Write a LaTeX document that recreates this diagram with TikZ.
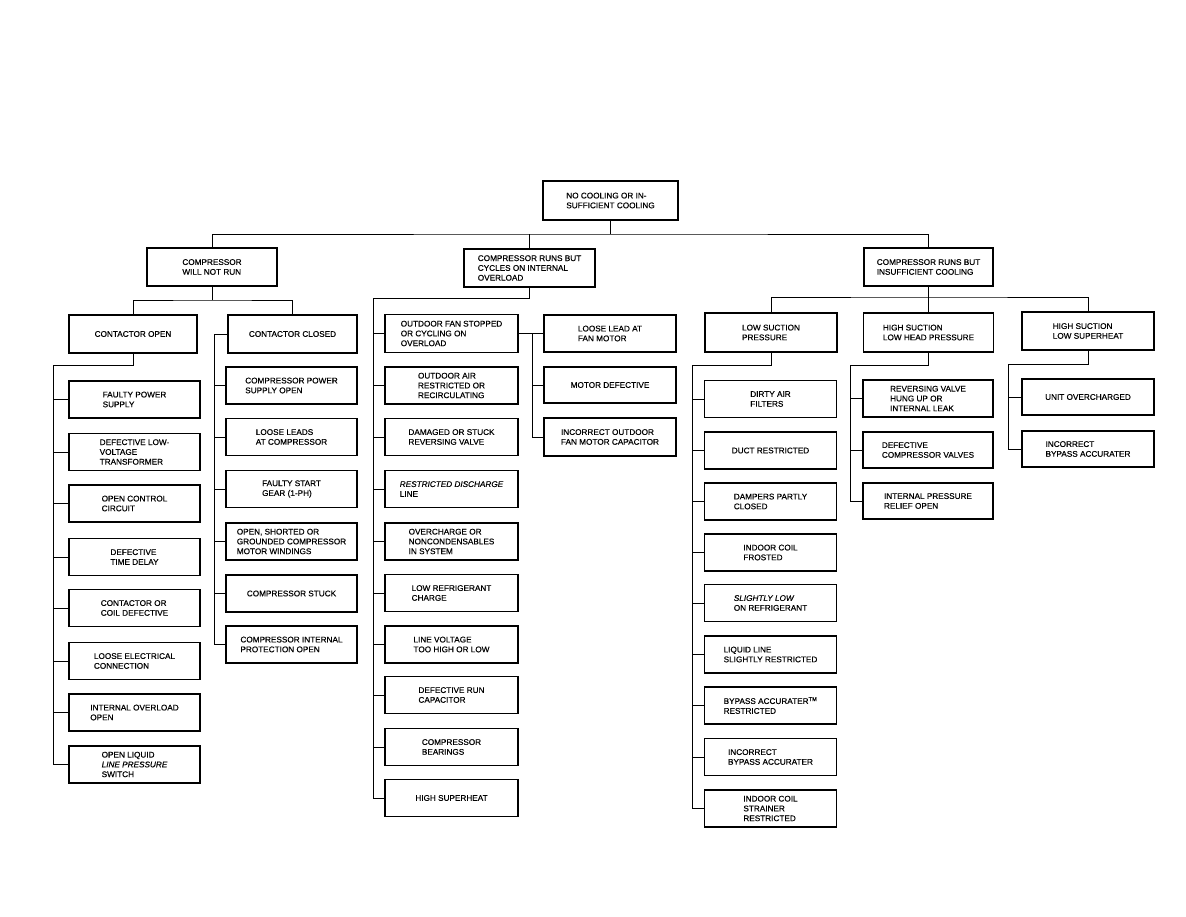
\documentclass[tikz,border=0pt]{standalone}
\usepackage{fontspec}
\setmainfont{Liberation Sans}
\newfontfamily\boxfont{Liberation Sans}[FakeBold=0.35, ItalicFeatures={FakeBold=0.35}]
\usetikzlibrary{calc}
\begin{document}
\begin{tikzpicture}[x=1pt,y=-1pt,
  box/.style={draw, line width=1.2pt, minimum width=131pt, minimum height=37pt, inner sep=1pt, align=left, font=\boxfont\fontsize{8.2}{9.8}\selectfont},
  link/.style={line width=0.75pt}]
\useasboundingbox[fill=white] (0,0) rectangle (1186,917);

% root and level 1
\node[box, minimum width=135pt, minimum height=39pt] (root) at (610.5,200.5) {NO COOLING OR IN-\\SUFFICIENT COOLING};
\node[box, minimum width=130pt, minimum height=38pt] (A) at (212,267) {COMPRESSOR\\WILL NOT RUN};
\node[box, minimum width=131pt, minimum height=38pt] (B) at (529.5,268) {COMPRESSOR RUNS BUT\\CYCLES ON INTERNAL\\OVERLOAD};
\node[box, minimum width=129pt, minimum height=38pt] (C) at (928.5,267) {COMPRESSOR RUNS BUT\\INSUFFICIENT COOLING};

% level 2
\node[box, minimum width=128pt, minimum height=38pt] (A1) at (133,334) {CONTACTOR OPEN};
\node[box, minimum width=129pt, minimum height=38pt] (A2) at (292.5,334) {CONTACTOR CLOSED};
\node[box, minimum width=133pt, minimum height=38pt] (B1) at (451.5,333.5) {OUTDOOR FAN STOPPED\\OR CYCLING ON\\OVERLOAD};
\node[box, minimum width=132pt] (B2) at (610,333.5) {LOOSE LEAD AT\\FAN MOTOR};
\node[box, minimum width=132pt, minimum height=39pt] (C1) at (771,332.5) {LOW SUCTION\\PRESSURE};
\node[box, minimum width=130pt, minimum height=39pt] (C2) at (928.5,332.5) {HIGH SUCTION\\LOW HEAD PRESSURE};
\node[box, minimum width=132pt, minimum height=38pt] (C3) at (1088,331) {HIGH SUCTION\\LOW SUPERHEAT};

% contactor open list
\node[box] (A1a) at (134.5,399.5) {FAULTY POWER\\SUPPLY};
\node[box] (A1b) at (134.5,452) {DEFECTIVE LOW-\\VOLTAGE\\TRANSFORMER};
\node[box] (A1c) at (134.5,503.5) {OPEN CONTROL\\CIRCUIT};
\node[box] (A1d) at (134.5,557) {DEFECTIVE\\TIME DELAY};
\node[box] (A1e) at (134.5,608) {CONTACTOR OR\\COIL DEFECTIVE};
\node[box] (A1f) at (134.5,661) {LOOSE ELECTRICAL\\CONNECTION};
\node[box] (A1g) at (134.5,712.5) {INTERNAL OVERLOAD\\OPEN};
\node[box] (A1h) at (134.5,764.5) {OPEN LIQUID\\{\itshape LINE PRESSURE}\\SWITCH};

% contactor closed list
\node[box] (A2a) at (291.5,385.5) {COMPRESSOR POWER\\SUPPLY OPEN};
\node[box] (A2b) at (291.5,437) {LOOSE LEADS\\AT COMPRESSOR};
\node[box] (A2c) at (291.5,489) {FAULTY START\\GEAR (1-PH)};
\node[box] (A2d) at (291.5,541.5) {OPEN, SHORTED OR\\GROUNDED COMPRESSOR\\MOTOR WINDINGS};
\node[box] (A2e) at (291.5,593.5) {COMPRESSOR STUCK};
\node[box] (A2f) at (291.5,644.5) {COMPRESSOR INTERNAL\\PROTECTION OPEN};

% fan motor list
\node[box, minimum width=132pt, minimum height=36pt] (B3) at (610,385) {MOTOR DEFECTIVE};
\node[box, minimum width=132pt, minimum height=38pt] (B4) at (610,437) {INCORRECT OUTDOOR\\FAN MOTOR CAPACITOR};

% cycles list
\node[box, minimum width=133pt] (B5) at (451.5,385.5) {OUTDOOR AIR\\RESTRICTED OR\\RECIRCULATING};
\node[box, minimum width=133pt] (B6) at (451.5,437) {DAMAGED OR STUCK\\REVERSING VALVE};
\node[box, minimum width=133pt] (B7) at (451.5,489) {{\itshape RESTRICTED DISCHARGE}\\LINE};
\node[box, minimum width=133pt] (B8) at (451.5,541.5) {OVERCHARGE OR\\NONCONDENSABLES\\IN SYSTEM};
\node[box, minimum width=133pt] (B9) at (451.5,593) {LOW REFRIGERANT\\CHARGE};
\node[box, minimum width=133pt] (B10) at (451.5,644.5) {LINE VOLTAGE\\TOO HIGH OR LOW};
\node[box, minimum width=133pt] (B11) at (451.5,695) {DEFECTIVE RUN\\CAPACITOR};
\node[box, minimum width=133pt] (B12) at (451.5,747) {COMPRESSOR\\BEARINGS};
\node[box, minimum width=133pt] (B13) at (451.5,798) {HIGH SUPERHEAT};

% low suction list
\node[box, minimum width=132pt] (C1a) at (770.5,399) {DIRTY AIR\\FILTERS};
\node[box, minimum width=132pt] (C1b) at (770.5,450.5) {DUCT RESTRICTED};
\node[box, minimum width=132pt] (C1c) at (770.5,501.5) {DAMPERS PARTLY\\CLOSED};
\node[box, minimum width=132pt] (C1d) at (770.5,552.5) {INDOOR COIL\\FROSTED};
\node[box, minimum width=132pt] (C1e) at (770.5,603) {{\itshape SLIGHTLY LOW}\\ON REFRIGERANT};
\node[box, minimum width=132pt] (C1f) at (770.5,654.5) {LIQUID LINE\\SLIGHTLY RESTRICTED};
\node[box, minimum width=132pt] (C1g) at (770.5,705.5) {BYPASS ACCURATER\textsuperscript{TM}\\RESTRICTED};
\node[box, minimum width=132pt] (C1h) at (770.5,757) {INCORRECT\\BYPASS ACCURATER};
\node[box, minimum width=132pt] (C1i) at (770.5,808.5) {INDOOR COIL\\STRAINER\\RESTRICTED};

% high suction low head list
\node[box, minimum width=130pt] (C2a) at (928,398.5) {REVERSING VALVE\\HUNG UP OR\\INTERNAL LEAK};
\node[box, minimum width=130pt, minimum height=36pt] (C2b) at (928,450) {DEFECTIVE\\COMPRESSOR VALVES};
\node[box, minimum width=130pt, minimum height=36pt] (C2c) at (928,501) {INTERNAL PRESSURE\\RELIEF OPEN};

% high suction low superheat list
\node[box, minimum width=132pt, minimum height=36pt] (C3a) at (1088,397) {UNIT OVERCHARGED};
\node[box, minimum width=132pt, minimum height=36pt] (C3b) at (1088,449) {INCORRECT\\BYPASS ACCURATER};

% junction coordinates
\coordinate (b0) at (610.5,234);
\coordinate (bA) at (212,300);
\coordinate (bA1) at (53,365);
\coordinate (bA2) at (214,334);
\coordinate (bB) at (373,298);
\coordinate (bB1) at (532,333.5);
\coordinate (bC) at (928.5,297);
\coordinate (bC1) at (692,365);
\coordinate (bC2) at (850,365);
\coordinate (bC3) at (1008,364);

\begin{scope}[link]
% root to level 1
\draw (root.south) -- (b0);
\draw (A.north) |- (b0) -| (C.north);
\draw (B.north) -- (B.north |- b0);
% compressor will not run
\draw (A.south) -- (bA);
\draw (A1.north) |- (bA) -| (A2.north);
% contactor open list
\draw (A1.south) |- (bA1) -- (bA1 |- A1h.west);
\foreach \n in {A1a,A1b,A1c,A1d,A1e,A1f,A1g,A1h}
  \draw (bA1 |- \n.west) -- (\n.west);
% contactor closed list
\draw (A2.west) -- (bA2) -- (bA2 |- A2f.west);
\foreach \n in {A2a,A2b,A2c,A2d,A2e,A2f}
  \draw (bA2 |- \n.west) -- (\n.west);
% cycles on internal overload
\draw (B.south) |- (bB) -- (bB |- B13.west);
\foreach \n in {B1,B5,B6,B7,B8,B9,B10,B11,B12,B13}
  \draw (bB |- \n.west) -- (\n.west);
% outdoor fan
\draw (B1.east) -- (B2.west);
\draw (bB1) -- (bB1 |- B4.west);
\foreach \n in {B3,B4}
  \draw (bB1 |- \n.west) -- (\n.west);
% insufficient cooling
\draw (C.south) -- (bC);
\draw (C1.north) |- (bC) -| (C3.north);
\draw (C2.north) -- (C2.north |- bC);
% low suction
\draw (C1.south) |- (bC1) -- (bC1 |- C1i.west);
\foreach \n in {C1a,C1b,C1c,C1d,C1e,C1f,C1g,C1h,C1i}
  \draw (bC1 |- \n.west) -- (\n.west);
% high suction low head
\draw (C2.south) |- (bC2) -- (bC2 |- C2c.west);
\foreach \n in {C2a,C2b,C2c}
  \draw (bC2 |- \n.west) -- (\n.west);
% high suction low superheat
\draw (C3.south) |- (bC3) -- (bC3 |- C3b.west);
\foreach \n in {C3a,C3b}
  \draw (bC3 |- \n.west) -- (\n.west);
\end{scope}
\end{tikzpicture}
\end{document}
